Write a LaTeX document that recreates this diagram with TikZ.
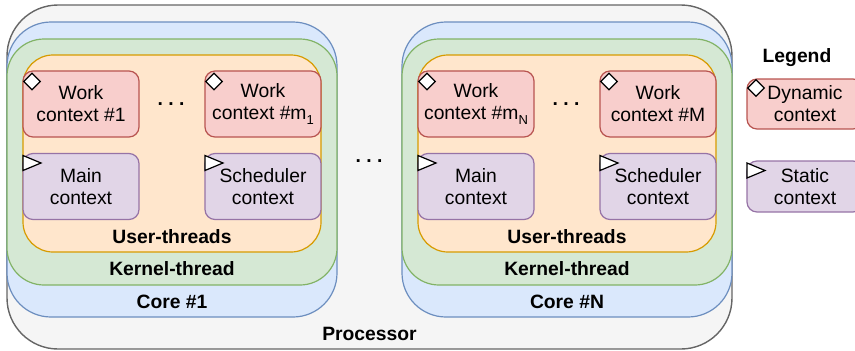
\documentclass[tikz,border=0pt]{standalone}
\usepackage{fontspec}
\setmainfont{Liberation Sans}
\usetikzlibrary{shapes.geometric}
\definecolor{procfill}{HTML}{F5F5F5}
\definecolor{procline}{HTML}{666666}
\definecolor{corefill}{HTML}{DAE8FC}
\definecolor{coreline}{HTML}{6C8EBF}
\definecolor{ktfill}{HTML}{D5E8D4}
\definecolor{ktline}{HTML}{82B366}
\definecolor{utfill}{HTML}{FFE6CC}
\definecolor{utline}{HTML}{D79B00}
\definecolor{dynfill}{HTML}{F8CECC}
\definecolor{dynline}{HTML}{B85450}
\definecolor{statfill}{HTML}{E1D5E7}
\definecolor{statline}{HTML}{9673A6}
\newcommand{\txtfont}{\fontsize{19.3}{22}\selectfont}
\newcommand{\subs}[1]{\raisebox{-0.3em}{\fontsize{13}{13}\selectfont #1}}
\begin{document}
\begin{tikzpicture}[x=1pt,y=-1pt,
  box/.style={inner sep=0pt, outer sep=0pt, line width=1.2pt},
  proc/.style={box, fill=procfill, draw=procline, rounded corners=51pt, minimum width=725pt, minimum height=344pt, line width=1.4pt},
  core/.style={box, fill=corefill, draw=coreline, rounded corners=44pt, minimum width=330pt, minimum height=295pt},
  kt/.style={box, fill=ktfill, draw=ktline, rounded corners=37pt, minimum width=330pt, minimum height=246pt},
  ut/.style={box, fill=utfill, draw=utline, rounded corners=30pt, minimum width=298pt, minimum height=197pt},
  ctx/.style={box, rounded corners=10pt, minimum width=116pt, minimum height=66pt, align=center, font=\txtfont},
  dyn/.style={ctx, fill=dynfill, draw=dynline},
  stat/.style={ctx, fill=statfill, draw=statline},
  lbl/.style={font=\txtfont\bfseries, inner sep=0pt, anchor=base},
  dotsty/.style={font=\txtfont\bfseries, inner sep=0pt, anchor=base},
  diam/.style={diamond, draw=black, fill=white, line width=1.2pt, minimum width=17pt, minimum height=17pt, inner sep=0pt},
  tri/.style={draw=black, fill=white, line width=1.2pt, line join=miter},
]
\useasboundingbox (0,0) rectangle (855,351);
\clip (0,0) rectangle (855,351);

% processor
\node[proc] (proc) at (369.5,177) {};
\node[lbl] (proclbl) at (369.5,340) {Processor};

% core 1
\node[core] (core1) at (172,169.5) {};
\node[kt] (kt1) at (172,162) {};
\node[ut] (ut1) at (172,153.5) {};
\node[lbl] (core1lbl) at (172,308) {Core \#1};
\node[lbl] (kt1lbl) at (172,275) {Kernel-thread};
\node[lbl] (ut1lbl) at (172,243) {User-threads};
\node[dyn] (w1) at (81,104) {Work\\context \#1};
\node[dyn] (wm1) at (263,104) {Work\\context \#m\subs{1}};
\node[stat] (main1) at (81,186.5) {Main\\context};
\node[stat] (sched1) at (263,186.5) {Scheduler\\context};
\node[dotsty] (dots1) at (171,105) {.\ .\ .};

% middle dots
\node[dotsty] (dotsmid) at (369,162.5) {.\ .\ .};

% core N
\node[core] (coreN) at (567,169.5) {};
\node[kt] (ktN) at (567,162) {};
\node[ut] (utN) at (567,153.5) {};
\node[lbl] (coreNlbl) at (567,308) {Core \#N};
\node[lbl] (ktNlbl) at (567,275) {Kernel-thread};
\node[lbl] (utNlbl) at (567,243) {User-threads};
\node[dyn] (wmN) at (476,104) {Work\\context \#m\subs{N}};
\node[dyn] (wM) at (658,104) {Work\\context \#M};
\node[stat] (mainN) at (476,186.5) {Main\\context};
\node[stat] (schedN) at (658,186.5) {Scheduler\\context};
\node[dotsty] (dotsN) at (566,105) {.\ .\ .};

% legend
\node[lbl] (leg) at (797,62) {Legend};
\node[dyn, minimum height=50pt] (legdyn) at (805,104) {Dynamic\\context};
\node[stat, minimum height=51pt] (legstat) at (805,186.5) {Static\\context};

% markers
\foreach \b in {w1,wm1,wmN,wM}{
  \node[diam] at ([shift={(9,10.5)}]\b.north west) {};
}
\node[diam] at ([shift={(9,9)}]legdyn.north west) {};
\foreach \b in {main1,sched1,mainN,schedN,legstat}{
  \draw[tri] ([shift={(0,2)}]\b.north west) -- ++(0,15) -- ++(18,-7.5) -- cycle;
}
\end{tikzpicture}
\end{document}
